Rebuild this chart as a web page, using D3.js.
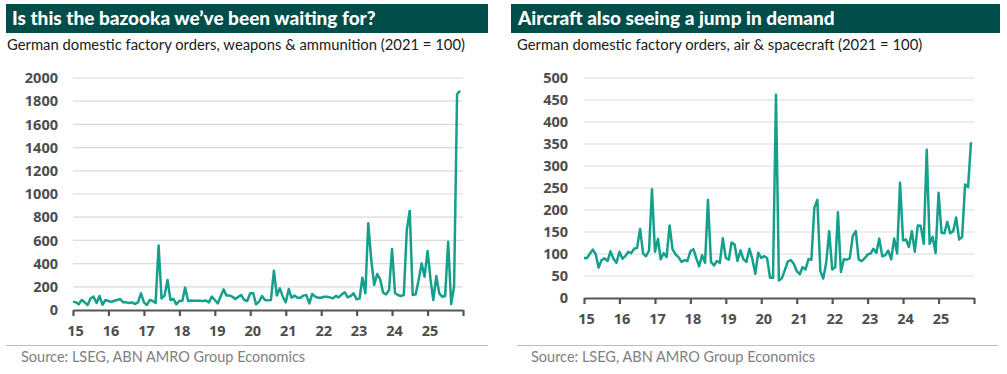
<!DOCTYPE html>
<html>
<head>
<meta charset="utf-8">
<script src="https://cdn.jsdelivr.net/npm/d3@7"></script>
<style>
  body { margin: 0; background: #fff; }
  text { font-family: Lato, "Open Sans", sans-serif; }
</style>
</head>
<body>
<svg id="chart" width="1007" height="374"></svg>
<script>
// monthly index values, Jan 2015 - Dec 2025 (2021 = 100)
var weapons = [
  72, 66, 50, 86, 66, 43, 100, 115, 60, 121, 45, 86,
  78, 70, 80, 86, 95, 66, 66, 60, 66, 52, 66, 144,
  66, 43, 86, 78, 60, 555, 100, 124, 259, 86, 95, 49,
  78, 80, 193, 78, 82, 80, 80, 80, 78, 82, 66, 115,
  86, 57, 115, 178, 124, 124, 115, 95, 115, 129, 86, 78,
  144, 144, 49, 72, 121, 86, 83, 86, 339, 124, 187, 115,
  66, 181, 106, 124, 106, 106, 124, 129, 57, 138, 115, 106,
  106, 115, 115, 109, 100, 121, 109, 135, 152, 109, 121, 144,
  92, 100, 279, 144, 747, 431, 216, 310, 264, 149, 135, 172,
  526, 144, 129, 121, 129, 690, 856, 129, 135, 259, 402, 287,
  509, 259, 86, 293, 144, 115, 121, 589, 52, 201, 1860, 1890
];
var aircraft = [
  91, 91, 100, 110, 100, 69, 86, 90, 84, 106, 89, 80,
  105, 89, 95, 105, 102, 112, 114, 157, 101, 95, 108, 247,
  105, 134, 88, 102, 93, 165, 111, 99, 93, 82, 86, 84,
  106, 111, 92, 72, 97, 80, 223, 82, 74, 84, 80, 136,
  91, 87, 126, 122, 84, 108, 88, 82, 112, 89, 55, 103,
  91, 95, 91, 46, 46, 462, 40, 45, 64, 83, 86, 78,
  61, 54, 70, 65, 88, 87, 205, 223, 61, 44, 82, 152,
  65, 70, 195, 59, 88, 87, 90, 141, 152, 87, 84, 90,
  99, 101, 112, 103, 135, 95, 97, 108, 88, 135, 101, 262,
  131, 133, 116, 152, 105, 165, 164, 123, 337, 123, 139, 102,
  239, 148, 147, 173, 147, 152, 183, 133, 139, 258, 252, 354
];
var yearLabels = ["15", "16", "17", "18", "19", "20", "21", "22", "23", "24", "25", ""];
var weaponTicks = [0, 200, 400, 600, 800, 1000, 1200, 1400, 1600, 1800, 2000];
var aircraftTicks = [0, 50, 100, 150, 200, 250, 300, 350, 400, 450, 500];

var months = d3.timeMonth.range(new Date(2015, 0, 1), new Date(2026, 0, 1));
var yearStarts = d3.timeYear.range(new Date(2015, 0, 1), new Date(2027, 0, 1));

var svg = d3.select("#chart");
var lineColor = "#14a08b";
var headColor = "#004d4a";
var tickFont = "'Open Sans', Lato, sans-serif";
var source = "Source: LSEG, ABN AMRO Group Economics";

function drawPanel(p) {
  var g = svg.append("g");

  // header bar
  g.append("rect")
    .attr("x", p.bx).attr("y", 4)
    .attr("width", p.bw).attr("height", 29)
    .attr("fill", headColor);
  g.append("text")
    .attr("x", p.titleX).attr("y", 25)
    .attr("fill", "#fff")
    .style("font-size", "19px").style("font-weight", "900")
    .text(p.title);
  g.append("text")
    .attr("x", p.subX).attr("y", 50)
    .attr("fill", "#1a1a1a")
    .style("font-size", "14.8px")
    .text(p.subtitle);

  var x = d3.scaleTime()
    .domain([new Date(2015, 0, 1), new Date(2026, 0, 1)])
    .range([p.left, p.right]);
  var y = d3.scaleLinear()
    .domain([0, d3.max(p.ticks)])
    .range([p.bottom, p.top]);

  // gridlines
  g.append("g").selectAll("line")
    .data(p.ticks.slice(1))
    .enter().append("line")
    .attr("x1", p.left).attr("x2", p.right)
    .attr("y1", function (d) { return y(d); })
    .attr("y2", function (d) { return y(d); })
    .attr("stroke", "#dadada")
    .attr("stroke-width", 1.2);

  // y labels
  var yAxis = g.append("g")
    .attr("transform", "translate(" + p.yLabelX + ",0)")
    .call(d3.axisLeft(y).tickValues(p.ticks).tickFormat(d3.format("d"))
      .tickSize(0).tickPadding(0));
  yAxis.select(".domain").remove();
  yAxis.selectAll("text")
    .attr("fill", "#4d4d4d")
    .style("font-size", "14.5px").style("font-weight", "700")
    .style("font-family", tickFont);

  // line
  var line = d3.line()
    .x(function (d, i) { return x(months[i]); })
    .y(function (d) { return y(d); });
  g.append("path")
    .datum(p.values)
    .attr("d", line)
    .attr("fill", "none")
    .attr("stroke", lineColor)
    .attr("stroke-width", 2.5)
    .attr("stroke-linejoin", "round");

  // x axis
  var xAxis = g.append("g")
    .attr("transform", "translate(0," + p.bottom + ")")
    .call(d3.axisBottom(x)
      .tickValues(yearStarts)
      .tickSize(6)
      .tickSizeOuter(0)
      .tickPadding(10)
      .tickFormat(function (d, i) { return yearLabels[i]; }));
  xAxis.select(".domain").attr("stroke", "#555").attr("stroke-width", 2.2);
  xAxis.selectAll(".tick line").attr("stroke", "#555").attr("stroke-width", 2.2);
  xAxis.selectAll("text")
    .attr("fill", "#4d4d4d")
    .attr("dx", "2")
    .style("font-size", "14.5px").style("font-weight", "700")
    .style("font-family", tickFont);

  // footer
  g.append("line")
    .attr("x1", p.sepX1).attr("x2", p.sepX2)
    .attr("y1", 345.5).attr("y2", 345.5)
    .attr("stroke", "#bdbdbd").attr("stroke-width", 1);
  g.append("text")
    .attr("x", p.sourceX).attr("y", 362)
    .attr("fill", "#808080")
    .style("font-size", "14.5px")
    .text(source);
}

drawPanel({
  title: "Is this the bazooka we\u2019ve been waiting for?",
  subtitle: "German domestic factory orders, weapons & ammunition (2021 = 100)",
  values: weapons, ticks: weaponTicks,
  bx: 6, bw: 482, titleX: 12, subX: 7,
  left: 73, right: 463, top: 78, bottom: 310, yLabelX: 58,
  sepX1: 6, sepX2: 488, sourceX: 21
});

drawPanel({
  title: "Aircraft also seeing a jump in demand",
  subtitle: "German domestic factory orders, air & spacecraft (2021 = 100)",
  values: aircraft, ticks: aircraftTicks,
  bx: 511, bw: 489, titleX: 518, subX: 517,
  left: 584, right: 974, top: 78, bottom: 298, yLabelX: 568,
  sepX1: 517, sepX2: 998, sourceX: 531
});
</script>
</body>
</html>
